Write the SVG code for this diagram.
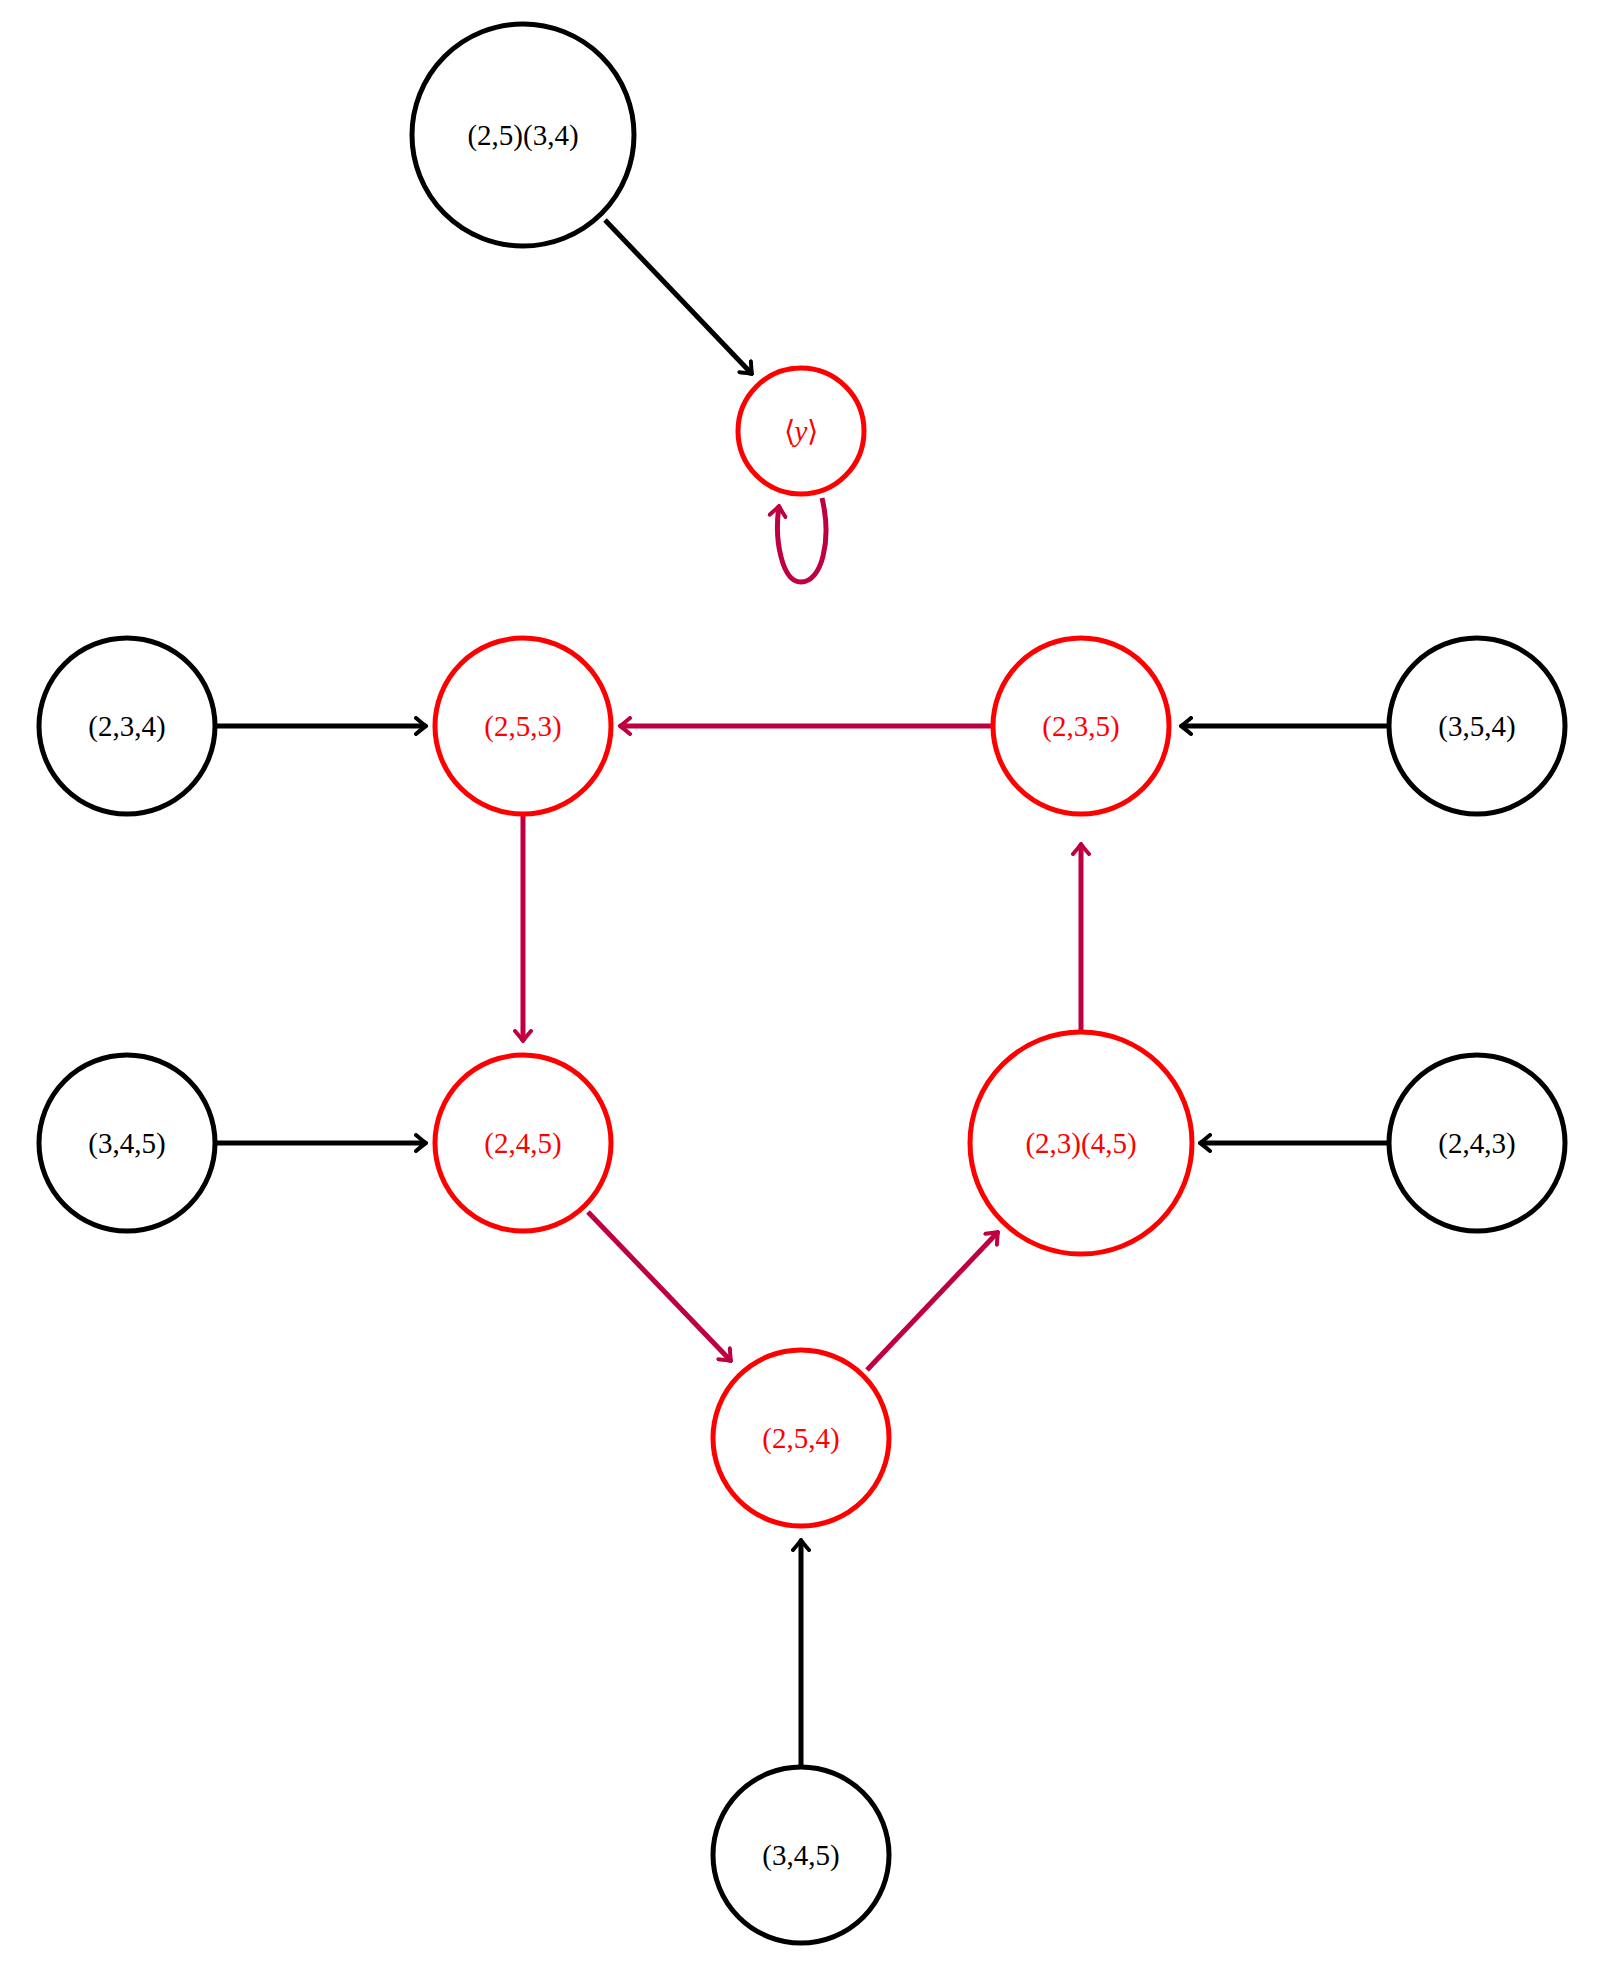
<svg xmlns="http://www.w3.org/2000/svg" width="1607" height="1987" viewBox="0 0 1607 1987">
<style>
.n{fill:#fff;stroke-width:5}
.b{stroke:#000}.r{stroke:#f00}
text{font-family:"Liberation Serif",serif;font-size:29px;text-anchor:middle;dominant-baseline:central}
.tb{fill:#000}.tr{fill:#f00}
.e{fill:none;stroke-width:5}
.eb{stroke:#000;marker-end:url(#ab)}
.er{stroke:#bf0040;marker-end:url(#ar)}
</style>
<defs>
<marker id="ab" viewBox="-12 -10 14 20" markerWidth="14" markerHeight="20" refX="0" refY="0" orient="auto" markerUnits="userSpaceOnUse"><path d="M-10,-8 Q-3,-2 0,0 Q-3,2 -10,8" fill="none" stroke="#000" stroke-width="4" stroke-linecap="round"/></marker>
<marker id="ar" viewBox="-12 -10 14 20" markerWidth="14" markerHeight="20" refX="0" refY="0" orient="auto" markerUnits="userSpaceOnUse"><path d="M-10,-8 Q-3,-2 0,0 Q-3,2 -10,8" fill="none" stroke="#bf0040" stroke-width="4" stroke-linecap="round"/></marker>
</defs>
<g id="edges">
<path class="e eb" d="M605,220 L752,374"/>
<path class="e er" d="M822,498 C832,540 822,582 801,582 C782,582 774,540 779,506"/>
<path class="e eb" d="M217,726 L426,726"/>
<path class="e er" d="M992,726 L620,726"/>
<path class="e eb" d="M1389,726 L1181,726"/>
<path class="e er" d="M523,814 L523,1041"/>
<path class="e eb" d="M217,1143 L426,1143"/>
<path class="e er" d="M588,1212 L731,1361"/>
<path class="e er" d="M867,1370 L998,1232"/>
<path class="e er" d="M1081,1032 L1081,844"/>
<path class="e eb" d="M1389,1143 L1200,1143"/>
<path class="e eb" d="M801,1767 L801,1540"/>
</g>
<g id="n1"><circle class="n b" cx="523" cy="135" r="111"/><text class="tb" x="523" y="135">(2,5)(3,4)</text></g>
<g id="n2"><circle class="n r" cx="801" cy="431" r="63"/><text class="tr" x="801" y="431">⟨<tspan font-style="italic">y</tspan>⟩</text></g>
<g id="n3"><circle class="n b" cx="127" cy="726" r="88"/><text class="tb" x="127" y="726">(2,3,4)</text></g>
<g id="n4"><circle class="n r" cx="523" cy="726" r="88"/><text class="tr" x="523" y="726">(2,5,3)</text></g>
<g id="n5"><circle class="n r" cx="1081" cy="726" r="88"/><text class="tr" x="1081" y="726">(2,3,5)</text></g>
<g id="n6"><circle class="n b" cx="1477" cy="726" r="88"/><text class="tb" x="1477" y="726">(3,5,4)</text></g>
<g id="n7"><circle class="n b" cx="127" cy="1143" r="88"/><text class="tb" x="127" y="1143">(3,4,5)</text></g>
<g id="n8"><circle class="n r" cx="523" cy="1143" r="88"/><text class="tr" x="523" y="1143">(2,4,5)</text></g>
<g id="n9"><circle class="n r" cx="1081" cy="1143" r="111"/><text class="tr" x="1081" y="1143">(2,3)(4,5)</text></g>
<g id="n10"><circle class="n b" cx="1477" cy="1143" r="88"/><text class="tb" x="1477" y="1143">(2,4,3)</text></g>
<g id="n11"><circle class="n r" cx="801" cy="1438" r="88"/><text class="tr" x="801" y="1438">(2,5,4)</text></g>
<g id="n12"><circle class="n b" cx="801" cy="1855" r="88"/><text class="tb" x="801" y="1855">(3,4,5)</text></g>
</svg>
